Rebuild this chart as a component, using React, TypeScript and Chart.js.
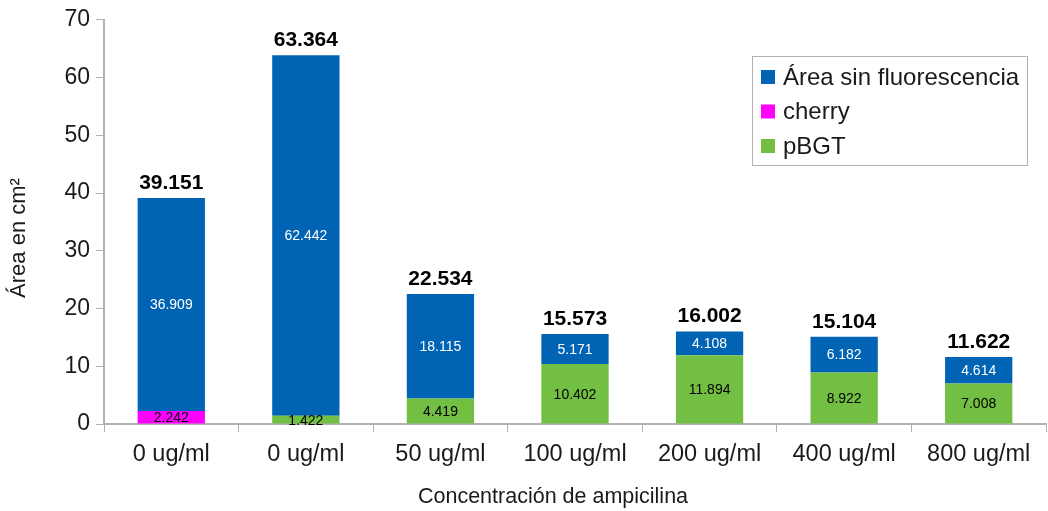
import React, { useEffect, useRef } from "react";
import { Chart, registerables } from "chart.js";

Chart.register(...registerables);

const categories = ["0 ug/ml", "0 ug/ml", "50 ug/ml", "100 ug/ml", "200 ug/ml", "400 ug/ml", "800 ug/ml"];
const pBGT = [0, 1.422, 4.419, 10.402, 11.894, 8.922, 7.008];
const cherry = [2.242, 0, 0, 0, 0, 0, 0];
const sinFluor = [36.909, 62.442, 18.115, 5.171, 4.108, 6.182, 4.614];
const totalLabels = ["39.151", "63.364", "22.534", "15.573", "16.002", "15.104", "11.622"];
const yTicks = [0, 10, 20, 30, 40, 50, 60, 70];

const BLUE = "#0063b4";
const MAGENTA = "#ff00ff";
const GREEN = "#72bf44";
const FONT = "'Liberation Sans', Arial, sans-serif";

const labelsPlugin = {
  id: "customLabels",
  afterDatasetsDraw(chart: any) {
    const ctx = chart.ctx;
    ctx.save();
    ctx.textAlign = "center";
    ctx.textBaseline = "middle";
    chart.data.datasets.forEach((ds: any, di: number) => {
      const meta = chart.getDatasetMeta(di);
      meta.data.forEach((el: any, i: number) => {
        const v = ds.data[i];
        if (!v) return;
        const cy = (el.y + el.base) / 2;
        ctx.font = `14px ${FONT}`;
        ctx.fillStyle = ds.labelColor;
        ctx.fillText(v.toFixed(3), el.x, cy + 1);
      });
    });
    // totals
    const top = chart.getDatasetMeta(chart.data.datasets.length - 1);
    top.data.forEach((el: any, i: number) => {
      ctx.font = `bold 21px ${FONT}`;
      ctx.fillStyle = "#000";
      ctx.fillText(totalLabels[i], el.x, el.y - 15);
    });
    // axis titles
    ctx.font = `21.5px ${FONT}`;
    ctx.fillStyle = "#1a1a1a";
    ctx.fillText("Concentración de ampicilina", 553, 497);
    ctx.translate(19, 238);
    ctx.rotate(-Math.PI / 2);
    ctx.font = `22px ${FONT}`;
    ctx.fillText("Área en cm²", 0, 0);
    ctx.restore();

    // legend
    ctx.save();
    ctx.strokeStyle = "#b3b3b3";
    ctx.lineWidth = 1;
    ctx.fillStyle = "#fff";
    ctx.fillRect(752.5, 56.5, 275, 109);
    ctx.strokeRect(752.5, 56.5, 275, 109);
    const items = [
      ["Área sin fluorescencia", BLUE],
      ["cherry", MAGENTA],
      ["pBGT", GREEN],
    ];
    ctx.textAlign = "left";
    ctx.textBaseline = "middle";
    ctx.font = `24px ${FONT}`;
    items.forEach(([t, c], k) => {
      const y = 77 + k * 34.5;
      ctx.fillStyle = c;
      ctx.fillRect(761, y - 7, 14, 14);
      ctx.fillStyle = "#1a1a1a";
      ctx.fillText(t, 783, y + 1);
    });
    ctx.restore();
  },
};

export default function App() {
  const ref = useRef<HTMLCanvasElement | null>(null);
  useEffect(() => {
    if (!ref.current) return;
    const chart = new Chart(ref.current, {
      type: "bar",
      data: {
        labels: categories,
        datasets: [
          { label: "pBGT", data: pBGT, backgroundColor: GREEN, labelColor: "#000" } as any,
          { label: "cherry", data: cherry, backgroundColor: MAGENTA, labelColor: "#000" } as any,
          { label: "Área sin fluorescencia", data: sinFluor, backgroundColor: BLUE, labelColor: "#fff" } as any,
        ],
      },
      options: {
        responsive: false,
        animation: false,
        events: [],
        layout: { padding: { top: 18, right: 2, left: 0, bottom: 0 } },
        datasets: { bar: { categoryPercentage: 0.5, barPercentage: 1 } },
        plugins: { legend: { display: false }, tooltip: { enabled: false } },
        scales: {
          x: {
            stacked: true,
            offset: true,
            grid: { offset: true, drawOnChartArea: false, tickLength: 8, color: "#b3b3b3" },
            border: { color: "#b3b3b3", width: 2 },
            ticks: { font: { family: FONT, size: 23.5 }, color: "#1a1a1a", padding: 8 },
            afterFit(s: any) { s.height = 87; },
          },
          y: {
            stacked: true,
            min: 0,
            max: 70,
            afterBuildTicks(s: any) { s.ticks = yTicks.map((v) => ({ value: v })); },
            grid: { drawOnChartArea: false, tickLength: 8, color: "#b3b3b3" },
            border: { color: "#b3b3b3", width: 2 },
            ticks: { font: { family: FONT, size: 23 }, color: "#1a1a1a", padding: 6 },
            afterFit(s: any) { s.width = 104; },
          },
        },
      },
      plugins: [labelsPlugin],
    });
    return () => chart.destroy();
  }, []);
  return (
    <div style={{ position: "fixed", left: 0, top: 0, width: 1048, height: 511, background: "#fff" }}>
      <canvas ref={ref} width={1048} height={511} />
    </div>
  );
}
